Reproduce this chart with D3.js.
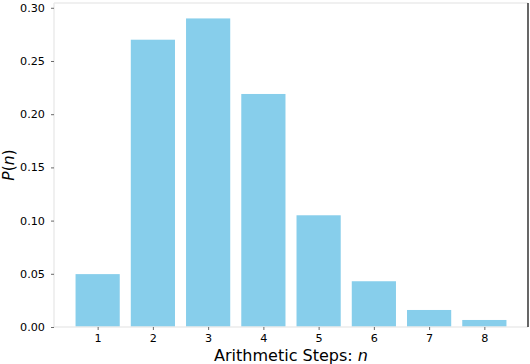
<!DOCTYPE html>
<html>
<head>
<meta charset="utf-8">
<script src="https://cdn.jsdelivr.net/npm/d3@7"></script>
<style>
  html, body { margin: 0; padding: 0; background: #fff; }
  svg { display: block; font-family: "DejaVu Sans", sans-serif; }
</style>
</head>
<body>
<script>
// data
const steps = [1, 2, 3, 4, 5, 6, 7, 8];
const probs = [0.0497, 0.270, 0.290, 0.219, 0.105, 0.043, 0.016, 0.0066];
const yTicks = [0.0, 0.05, 0.10, 0.15, 0.20, 0.25, 0.30];

const width = 530, height = 364;
const margin = { top: 3, right: 2, bottom: 37, left: 54 };

const svg = d3.select("body").append("svg")
  .attr("width", width)
  .attr("height", height);

// matplotlib-like limits: 5% margin on x, y top at max*1.05
const x = d3.scaleLinear()
  .domain([0.21, 8.79])
  .range([margin.left, width - margin.right]);

const y = d3.scaleLinear()
  .domain([0, d3.max(probs) * 1.05])
  .range([height - margin.bottom, margin.top]);

const barW = 0.8;

svg.append("g")
  .selectAll("rect")
  .data(steps)
  .join("rect")
  .attr("x", (d) => x(d - barW / 2))
  .attr("width", (d) => x(d + barW / 2) - x(d - barW / 2))
  .attr("y", (_, i) => y(probs[i]))
  .attr("height", (_, i) => y(0) - y(probs[i]))
  .attr("fill", "#87ceeb");

// spines: light gray left/top/bottom, black right
const spine = svg.append("g").attr("fill", "none");
const x0 = x.range()[0], x1 = x.range()[1];
const y0 = y.range()[0], y1 = y.range()[1];
spine.append("line").attr("x1", x0).attr("x2", x0).attr("y1", y0).attr("y2", y1)
  .attr("stroke", "#ebebeb").attr("stroke-width", 1.5);
spine.append("line").attr("x1", x0).attr("x2", x1).attr("y1", y1).attr("y2", y1)
  .attr("stroke", "#ebebeb").attr("stroke-width", 1.5);
spine.append("line").attr("x1", x0).attr("x2", x1).attr("y1", y0).attr("y2", y0)
  .attr("stroke", "#ebebeb").attr("stroke-width", 1.5);
spine.append("line").attr("x1", x1).attr("x2", x1).attr("y1", y0).attr("y2", y1)
  .attr("stroke", "#000").attr("stroke-width", 1.2);

// axes
const xAxis = d3.axisBottom(x)
  .tickValues(steps)
  .tickFormat(d3.format("d"))
  .tickSize(3)
  .tickPadding(4);

const yAxis = d3.axisLeft(y)
  .tickValues(yTicks)
  .tickFormat(d3.format(".2f"))
  .tickSize(3)
  .tickPadding(6);

const gx = svg.append("g")
  .attr("transform", `translate(0,${y0})`)
  .call(xAxis);
const gy = svg.append("g")
  .attr("transform", `translate(${x0},0)`)
  .call(yAxis);

for (const g of [gx, gy]) {
  g.select(".domain").remove();
  g.selectAll(".tick line").attr("stroke", "#444").attr("stroke-width", 0.8);
  g.selectAll(".tick text")
    .attr("fill", "#000")
    .style("font-family", "DejaVu Sans, sans-serif")
    .style("font-size", "11.2px");
}

// axis labels
const xl = svg.append("text")
  .attr("x", (x0 + x1) / 2)
  .attr("y", 361)
  .attr("text-anchor", "middle")
  .style("font-size", "16px")
  .attr("fill", "#000");
xl.append("tspan").text("Arithmetic Steps: ");
xl.append("tspan").style("font-style", "italic").text("n");

const yl = svg.append("text")
  .attr("transform", `translate(14,${(y0 + y1) / 2}) rotate(-90)`)
  .attr("text-anchor", "middle")
  .style("font-size", "15.5px")
  .attr("fill", "#000");
yl.append("tspan").style("font-style", "italic").text("P");
yl.append("tspan").text("(");
yl.append("tspan").style("font-style", "italic").text("n");
yl.append("tspan").text(")");
</script>
</body>
</html>
